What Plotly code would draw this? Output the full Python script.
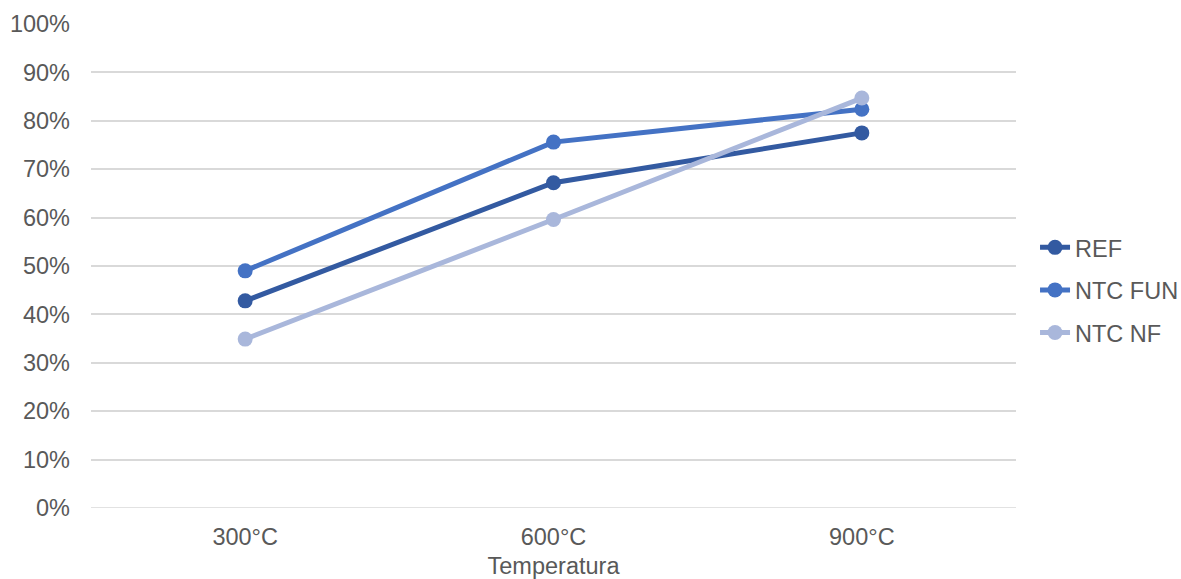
import plotly.graph_objects as go

categories = ["300°C", "600°C", "900°C"]
ref = [0.428, 0.672, 0.775]
ntc_fun = [0.490, 0.756, 0.824]
ntc_nf = [0.349, 0.596, 0.847]
y_ticks = [i / 10 for i in range(11)]

series = [("REF", ref, "#335AA1"), ("NTC FUN", ntc_fun, "#4472C4"), ("NTC NF", ntc_nf, "#A9B7DB")]
FONT = "Liberation Sans, Arial, sans-serif"
TXT = "#595959"

fig = go.Figure()
for i, (name, vals, col) in enumerate(series):
    fig.add_trace(go.Scatter(
        x=categories, y=vals, name=name, mode="lines+markers",
        line=dict(color=col, width=5), marker=dict(color=col, size=15),
        legendgroup=f"g{i}",
    ))

fig.update_layout(
    width=1181, height=579,
    margin=dict(l=91, r=165, t=24, b=71),
    paper_bgcolor="white", plot_bgcolor="white",
    font=dict(family=FONT, size=23.5, color=TXT),
    legend=dict(xref="container", yref="container", x=0.8764, y=0.499,
                xanchor="left", yanchor="middle",
                tracegroupgap=9, font=dict(size=23.5, color=TXT),
                itemwidth=30, bgcolor="rgba(0,0,0,0)"),
    xaxis=dict(type="category", range=[-0.5, 2.5], showgrid=False, showline=False,
               zeroline=False, ticks="", ticklabelstandoff=12, automargin=False,
               title=dict(text="Temperatura", standoff=11, font=dict(size=23.5, color=TXT))),
    yaxis=dict(range=[0, 1], tickvals=y_ticks, tickformat=".0%", showgrid=True,
               gridcolor="#D9D9D9", gridwidth=1.5, zeroline=False, showline=False,
               ticks="", ticklabelstandoff=20, automargin=False),
)
fig.add_shape(type="line", xref="paper", yref="y", x0=0, x1=1, y0=0, y1=0,
              line=dict(color="#D9D9D9", width=1.5), layer="below")

fig.write_html("out.html")
